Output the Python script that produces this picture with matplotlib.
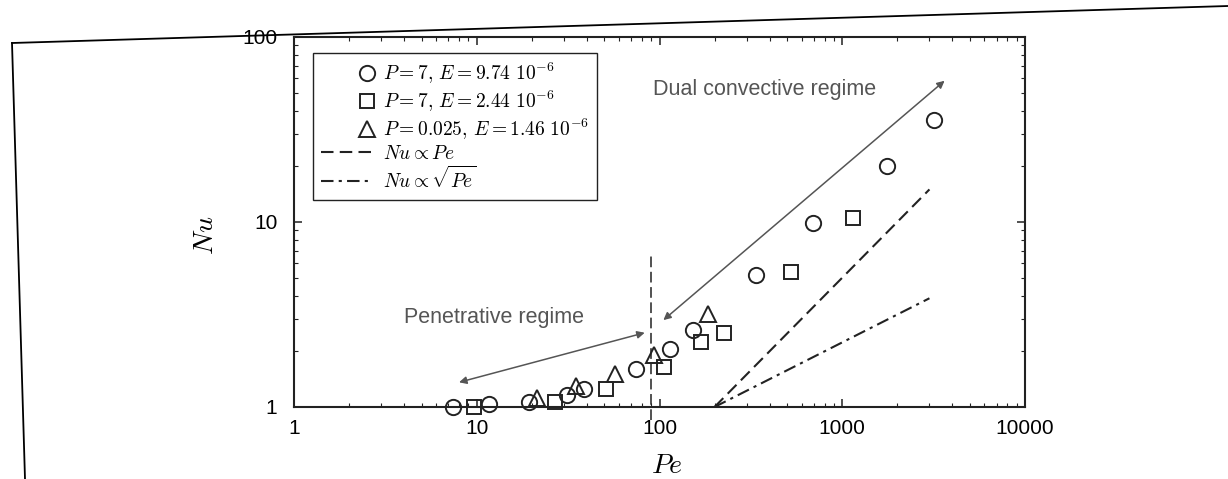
import matplotlib
matplotlib.use("Agg")
import matplotlib.pyplot as plt
from matplotlib.lines import Line2D
from matplotlib.legend_handler import HandlerLine2D
from matplotlib.ticker import FixedLocator, FixedFormatter, LogLocator, NullFormatter

plt.rcParams['mathtext.fontset'] = 'cm'
plt.rcParams['font.family'] = ['Liberation Sans', 'DejaVu Sans']

# data
circ_pe = [7.4, 11.6, 19.3, 31, 38.7, 74, 114, 153, 338, 692, 1760, 3170]
circ_nu = [1.0, 1.04, 1.07, 1.16, 1.25, 1.61, 2.07, 2.61, 5.2, 9.9, 20, 35.7]
sq_pe = [9.6, 26.8, 51, 106, 168, 225, 525, 1148]
sq_nu = [1.0, 1.06, 1.25, 1.64, 2.24, 2.52, 5.4, 10.5]
tri_pe = [21.4, 35, 57.3, 93, 185]
tri_nu = [1.12, 1.30, 1.51, 1.91, 3.17]

# scaling laws (end points)
law_pe = [200, 3000]
law_lin = [1, 15]
law_sqrt = [1, 3.87]

# regime boundary
bound_pe = [90, 90]
bound_nu = [0.85, 6.9]

labels = [r'$P=7,\, E=9.74\ 10^{-6}$',
          r'$P=7,\, E=2.44\ 10^{-6}$',
          r'$P=0.025,\, E=1.46\ 10^{-6}$',
          r'$Nu \propto Pe$',
          r'$Nu \propto \sqrt{Pe}$']

xticks = [1, 10, 100, 1000, 10000]
xtick_labels = ['1', '10', '100', '1000', '10000']
yticks = [1, 10, 100]
ytick_labels = ['1', '10', '100']

ink = '#222222'
gray = '#555555'


class RightMarker(HandlerLine2D):
    # single marker at the right end of the handle, like the original
    def get_xdata(self, legend, xdescent, ydescent, width, height, fontsize):
        xm = -xdescent + width - 0.3 * fontsize
        return [xm], [xm]


fig = plt.figure(figsize=(12.28, 4.79), dpi=100)
ax = fig.add_axes([294/1228, 1 - 407/479, 731/1228, 370/479])

# page frame from the scan
fig.add_artist(Line2D([12/1228, 1.0], [1 - 43/479, 1 - 6/479], color='k', lw=1.3))
fig.add_artist(Line2D([12/1228, 25/1228], [1 - 43/479, 0.0], color='k', lw=1.3))

h1, = ax.plot(circ_pe, circ_nu, 'o', ms=11, mfc='none', mec=ink, mew=1.4, clip_on=False, zorder=4)
h2, = ax.plot(sq_pe, sq_nu, 's', ms=9.5, mfc='none', mec=ink, mew=1.4, clip_on=False, zorder=4)
h3, = ax.plot(tri_pe, tri_nu, '^', ms=11, mfc='none', mec=ink, mew=1.4, clip_on=False, zorder=4)
h4, = ax.plot(law_pe, law_lin, color=ink, lw=1.5, ls=(0, (6, 3)))
h5, = ax.plot(law_pe, law_sqrt, color=ink, lw=1.5, ls=(0, (6, 2.5, 1.5, 2.5)))
ax.plot(bound_pe, bound_nu, color=ink, lw=1.1, ls=(0, (7, 3)), clip_on=False)

# regime arrows and labels
ax.annotate('', xy=(3630, 58), xytext=(105, 2.95),
            arrowprops=dict(arrowstyle='<|-|>', color=gray, lw=1.1, mutation_scale=11, shrinkA=0, shrinkB=0))
ax.annotate('', xy=(83, 2.52), xytext=(8.0, 1.36),
            arrowprops=dict(arrowstyle='<|-|>', color=gray, lw=1.1, mutation_scale=11, shrinkA=0, shrinkB=0))
ax.text(376, 52, 'Dual convective regime', color=gray, fontsize=15.5, ha='center', va='center')
ax.text(12.4, 3.05, 'Penetrative regime', color=gray, fontsize=15.5, ha='center', va='center')

ax.set_xscale('log')
ax.set_yscale('log')
ax.set_xlim(1, 10000)
ax.set_ylim(1, 100)

ax.xaxis.set_major_locator(FixedLocator(xticks))
ax.xaxis.set_major_formatter(FixedFormatter(xtick_labels))
ax.yaxis.set_major_locator(FixedLocator(yticks))
ax.yaxis.set_major_formatter(FixedFormatter(ytick_labels))
ax.xaxis.set_minor_locator(LogLocator(base=10, subs=range(2, 10)))
ax.yaxis.set_minor_locator(LogLocator(base=10, subs=range(2, 10)))
ax.xaxis.set_minor_formatter(NullFormatter())
ax.yaxis.set_minor_formatter(NullFormatter())

ax.tick_params(which='both', direction='in', top=True, right=True, color=ink, labelsize=15)
ax.tick_params(which='major', length=6, width=1.1)
ax.tick_params(which='minor', length=3, width=0.8)
ax.tick_params(axis='x', pad=9)
ax.tick_params(axis='y', pad=12)
for s in ax.spines.values():
    s.set_linewidth(1.5)
    s.set_color(ink)

ax.set_xlabel(r'$Pe$', fontsize=20)
ax.set_ylabel(r'$Nu$', fontsize=20)
ax.xaxis.set_label_coords(0.51, -0.125)
ax.yaxis.set_label_coords(-0.103, 0.465)

hm = RightMarker(numpoints=2)
leg = ax.legend([h1, h2, h3, h4, h5], labels, loc='upper left',
                bbox_to_anchor=(313/1228, 1 - 53/479), bbox_transform=fig.transFigure,
                borderaxespad=0, fontsize=14, fancybox=False, framealpha=1,
                edgecolor=ink, handlelength=2.7, handletextpad=0.5, labelspacing=0.15,
                borderpad=0.4, handler_map={h1: hm, h2: hm, h3: hm})
leg.get_frame().set_linewidth(1.0)

fig.savefig('out.png', dpi=100)
